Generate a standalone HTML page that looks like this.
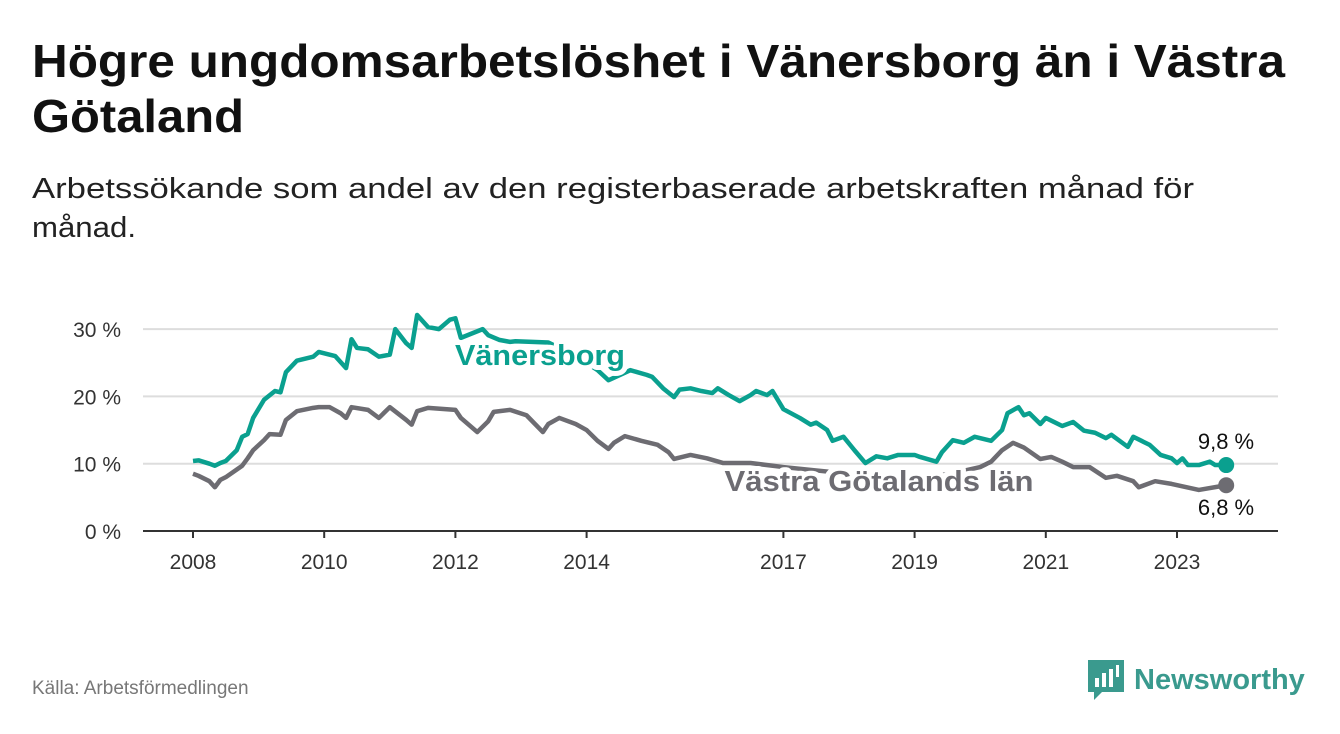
<!DOCTYPE html>
<html><head><meta charset="utf-8">
<style>
body{margin:0;width:1340px;height:734px;background:#fff;font-family:"Liberation Sans",sans-serif;overflow:hidden;position:relative}
.src{position:absolute;left:32px;top:678px;font-size:19px;color:#777}
.logo{position:absolute;left:1088px;top:660px;display:flex;align-items:center;gap:10px;font-size:29px;font-weight:bold;color:#3a9a8e}
</style></head><body>
<svg id="chart" width="1340" height="734" style="position:absolute;left:0;top:0">
<text font-family="Liberation Sans" font-weight="bold" font-size="46" fill="#111"><tspan x="32" y="77" textLength="1253" lengthAdjust="spacingAndGlyphs">Högre ungdomsarbetslöshet i Vänersborg än i Västra</tspan><tspan x="32" y="132" textLength="212" lengthAdjust="spacingAndGlyphs">Götaland</tspan></text>
<text font-family="Liberation Sans" font-size="29" fill="#222"><tspan x="32" y="198" textLength="1162" lengthAdjust="spacingAndGlyphs">Arbetssökande som andel av den registerbaserade arbetskraften månad för</tspan><tspan x="32" y="237" textLength="104" lengthAdjust="spacingAndGlyphs">månad.</tspan></text>
</svg>
<div class="src">Källa: Arbetsförmedlingen</div>
<div class="logo">
<svg width="36" height="40" viewBox="0 0 36 40"><path d="M0 0H36V32H14L6 40V32H0Z" fill="#3a9a8e"/><rect x="7" y="18" width="4" height="9" fill="#fff"/><rect x="14" y="13" width="4" height="14" fill="#fff"/><rect x="21" y="9" width="4" height="18" fill="#fff"/><rect x="28" y="5" width="3" height="12" fill="#fff"/></svg>
<span>Newsworthy</span></div>
<script>
// months since Jan 2008
const vMonths=[0,1,3,4,5,6,8,9,10,11,13,15,16,17,19,22,23,26,28,29,30,32,34,36,37,39,40,41,43,45,47,48,49,53,54,56,58,59,65,70,74,76,80,83,84,86,88,89,91,93,95,96,98,100,102,103,105,106,108,111,113,114,116,117,119,121,123,125,127,129,132,133,136,137,139,141,143,146,148,149,151,152,153,155,156,159,161,163,165,167,168,171,172,175,177,179,180,181,182,184,186,187,189];
const vValues=[10.4,10.5,10.0,9.7,10.1,10.4,12.0,14.0,14.4,16.8,19.5,20.8,20.6,23.6,25.3,25.9,26.6,26.0,24.2,28.5,27.2,27.0,25.9,26.2,30.0,27.9,27.2,32.1,30.3,30.0,31.4,31.6,28.7,30.0,29.1,28.4,28.1,28.2,28.0,26.0,23.9,22.4,23.9,23.2,22.9,21.2,19.9,21.0,21.2,20.8,20.5,21.2,20.2,19.3,20.2,20.8,20.2,20.8,18.1,16.8,15.8,16.1,15.0,13.4,14.0,12.0,10.1,11.1,10.8,11.3,11.3,11.0,10.3,11.7,13.5,13.1,14.0,13.4,15.0,17.5,18.4,17.2,17.5,15.9,16.8,15.6,16.2,14.9,14.6,13.8,14.3,12.5,14.0,12.8,11.3,10.8,10.1,10.8,9.8,9.8,10.3,9.8,9.8];
const gMonths=[0,1,3,4,5,6,9,10,11,13,14,16,17,19,22,23,25,27,28,29,32,34,36,39,40,41,43,48,49,52,54,55,58,61,64,65,67,70,72,74,76,77,79,82,85,87,88,91,94,97,102,108,114,120,126,132,138,144,146,148,150,152,155,157,159,161,164,167,169,172,173,176,179,184,189];
const gValues=[8.5,8.2,7.4,6.5,7.6,8.0,9.7,10.8,12.0,13.5,14.4,14.3,16.5,17.8,18.3,18.4,18.4,17.5,16.8,18.4,18.0,16.8,18.4,16.5,15.8,17.8,18.3,18.0,16.8,14.7,16.3,17.7,18.0,17.2,14.7,15.9,16.8,15.9,15.0,13.4,12.2,13.1,14.1,13.4,12.8,11.7,10.7,11.3,10.8,10.1,10.1,9.5,9.0,8.5,8.3,8.2,8.4,9.5,10.3,12.0,13.1,12.4,10.7,11.0,10.3,9.5,9.5,7.9,8.2,7.4,6.5,7.4,7.0,6.1,6.8];
const yTicks=[0,10,20,30];
const xTickYears=[2008,2010,2012,2014,2017,2019,2021,2023];

const NS="http://www.w3.org/2000/svg",svg=document.getElementById('chart');
const X0=193,PX_PER_YEAR=65.6,Y0=531,PX_PER_PCT=6.73;
const xM=m=>X0+m/12*PX_PER_YEAR, xY=y=>X0+(y-2008)*PX_PER_YEAR, yS=v=>Y0-v*PX_PER_PCT;
function mk(t,a,p){const e=document.createElementNS(NS,t);for(const k in a)e.setAttribute(k,a[k]);(p||svg).appendChild(e);return e;}
yTicks.forEach(v=>{
  const l=mk('line',{x1:143,x2:1278,y1:yS(v),y2:yS(v),stroke:v===0?'#333':'#ddd','stroke-width':2});
  
  
  const t=mk('text',{x:121,y:yS(v)+8,'text-anchor':'end','font-size':21,fill:'#333','font-family':'Liberation Sans'});
  t.textContent=v+' %';
  
  
});
xTickYears.forEach(y=>{
  const l=mk('line',{x1:xY(y),x2:xY(y),y1:Y0,y2:Y0+7,stroke:'#333','stroke-width':2});
  
  
  const t=mk('text',{x:xY(y),y:Y0+38,'text-anchor':'middle','font-size':21,fill:'#333','font-family':'Liberation Sans'});
  t.textContent=y;
  
  
});
function series(ms,vs,col,name){
  const p=mk('polyline',{points:ms.map((m,i)=>xM(m)+','+yS(vs[i])).join(' '),fill:'none',stroke:col,'stroke-width':4.5,'stroke-linejoin':'round'});
  
  
  const c=mk('circle',{cx:xM(ms[ms.length-1]),cy:yS(vs[vs.length-1]),r:8,fill:col});
  
  
}
series(gMonths,gValues,'#6d6c72','vastra-gotaland');
series(vMonths,vValues,'#0aa08f','vanersborg');
function label(txt,x,y,col,sz,w,name,halo,len){
  const t=mk('text',{x:x,y:y,'font-size':sz,'font-weight':w,fill:col,'font-family':'Liberation Sans','text-anchor':'middle'});
  if(halo){t.setAttribute('stroke','#fff');t.setAttribute('stroke-width',10);t.setAttribute('paint-order','stroke');t.setAttribute('stroke-linejoin','round');}
  if(len){t.setAttribute('textLength',len);t.setAttribute('lengthAdjust','spacingAndGlyphs');}
  t.textContent=txt;
  
  
}
label('Vänersborg',540,365,'#0aa08f',29,'bold','vanersborg-label',true,170);
label('Västra Götalands län',879,491,'#6d6c72',29,'bold','vastra-gotaland-label',true,309);
label(String(vValues[vValues.length-1]).replace('.',',')+' %',1226,449,'#111',22,'normal','vanersborg-end-value',false);
label(String(gValues[gValues.length-1]).replace('.',',')+' %',1226,515,'#111',22,'normal','vastra-gotaland-end-value',false);
</script>
</body></html>
